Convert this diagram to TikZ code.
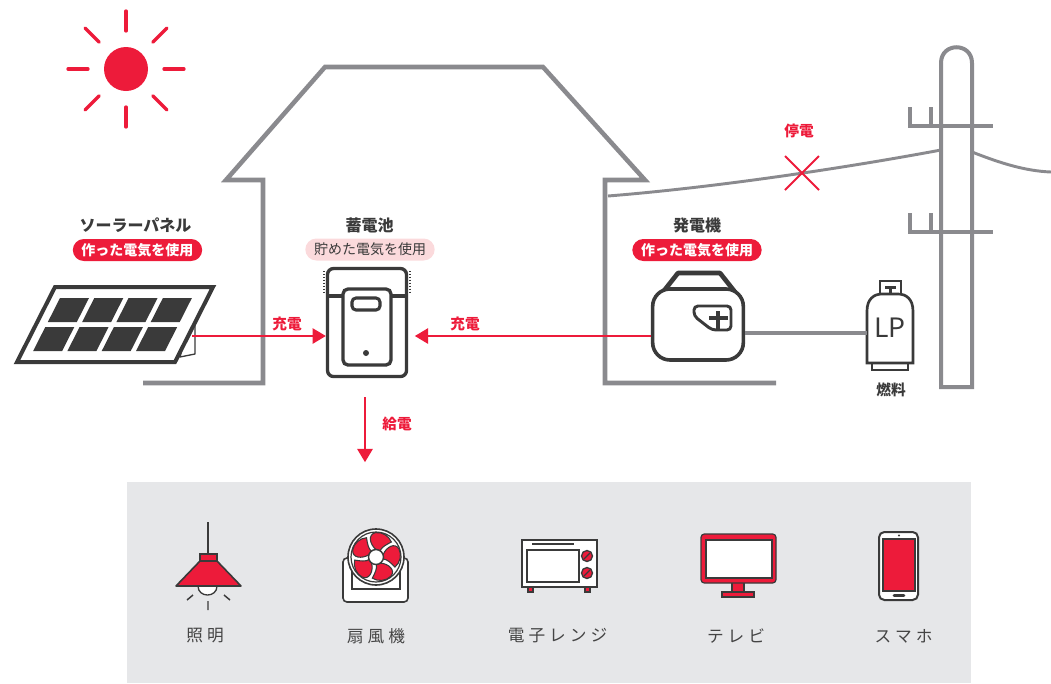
\documentclass[tikz,border=0pt]{standalone}
\usepackage{fontspec}
\setmainfont{Noto Sans CJK JP}
\usetikzlibrary{arrows.meta}
\definecolor{accent}{HTML}{ED1B3A}
\definecolor{ink}{HTML}{3A3A3A}
\definecolor{wall}{HTML}{8A8A8E}
\definecolor{shelf}{HTML}{E6E7E9}
\definecolor{blush}{HTML}{FBDADC}
\definecolor{labelgray}{HTML}{444444}
\newcommand{\gp}{\hspace{3pt}}

\begin{document}
\begin{tikzpicture}[x=0.75pt,y=-0.75pt,
  structure/.style={draw=wall, line width=3.4pt, line join=miter},
  wire/.style={draw=wall, line width=2.2pt},
  flow/.style={draw=accent, line width=1.6pt, -{Triangle[length=10pt,width=11.5pt]}},
  title/.style={font=\bfseries\fontsize{12pt}{14pt}\selectfont, text=ink, inner sep=0pt},
  pill/.style={fill=accent, text=white, font=\bfseries\fontsize{10.5pt}{12pt}\selectfont,
    rounded corners=8.25pt, minimum height=16.5pt, minimum width=97pt, inner sep=0pt},
  redtag/.style={font=\bfseries\fontsize{11pt}{13pt}\selectfont, text=accent, inner sep=0pt},
  item/.style={font=\fontsize{12.5pt}{14pt}\selectfont, text=labelgray, inner sep=0pt},
]
\useasboundingbox (0,0) rectangle (1051,683);

% ---- sun ----
\fill[accent] (126,69) circle (22);
\foreach \a in {0,45,...,315}
  \draw[accent, line width=2.5pt, line cap=round, shift={(126,69)}] (\a:38) -- (\a:58);

% ---- house outline ----
\draw[structure] (143,383) -- (263,383) -- (263,180) -- (226,180) -- (325,67) -- (543,67)
  -- (645,180) -- (605,180) -- (605,383) -- (776,383);

% ---- power line and pole ----
\draw[wire] (608,196) .. controls (720,187) and (850,167) .. (941,150);
\draw[wire] (972,152) .. controls (1000,163) and (1025,171) .. (1051,172);
\draw[structure, line width=3pt] (941,387) -- (941,63) .. controls (941,42) and (972,42) .. (972,63)
  -- (972,387) -- cycle;
\draw[structure, line width=3pt] (910,107) -- (910,126) -- (993,126) (931,107) -- (931,126);
\draw[structure, line width=3pt] (910,213) -- (910,232) -- (993,232) (931,213) -- (931,232);

% outage mark
\draw[accent, line width=1.5pt] (785,156) -- (819,190) (785,190) -- (819,156);
\node[redtag] (outage) at (799,131) {停電};

% ---- solar panel ----
\draw[ink, fill=white, line width=1pt, line join=round] (186,333) -- (195,325) -- (195,354) -- (180,357) -- cycle;
\draw[ink, fill=white, line width=3pt, line join=miter] (55,287) -- (213,287) -- (175,362) -- (17,362) -- cycle;
\foreach \i in {0,1,2,3}{
  \foreach \t/\b in {298/322,327/351}{
    \fill[ink] ({60+34.3*\i-0.507*(\t-298)},\t) -- ({89+34.3*\i-0.507*(\t-298)},\t)
      -- ({89+34.3*\i-0.507*(\b-298)},\b) -- ({60+34.3*\i-0.507*(\b-298)},\b) -- cycle;
  }
}
\coordinate (solout) at (192,336);
\node[title] (soltitle) at (135.5,225) {ソーラーパネル};
\node[pill] (solpill) at (137.5,250) {作った電気を使用};

% ---- storage battery ----
\node[draw=ink, fill=white, line width=2.5pt, rounded corners=4.5pt, minimum width=59.25pt,
  minimum height=81pt, inner sep=0pt] (batt) at (367,322.5) {};
\draw[ink, line width=1.4pt, dash pattern=on 1.1pt off 1.1pt] (324,271) -- (324,293) (410,271) -- (410,293);
\draw[ink, line width=2.5pt] (327,296) -- (407,296);
\draw[ink, fill=white, line width=2.5pt, rounded corners=3.75pt] (343,289) rectangle (391,365);
\draw[ink, line width=2.3pt, rounded corners=3pt] (352,298) rectangle (380,310);
\fill[ink] (366,353) circle (3);
\node[title] (batttitle) at (369.5,225) {蓄電池};
\node[pill, fill=blush, text=ink, font=\fontsize{10.5pt}{12pt}\selectfont] (battpill) at (370,249.5) {貯めた電気を使用};

% ---- generator ----
\draw[ink, fill=white, line width=3.5pt, line join=round] (663,292) -- (678,273) -- (720,273) -- (735,292);
\node[draw=ink, fill=white, line width=2.7pt, rounded corners=13pt, minimum width=68pt,
  minimum height=53.25pt, inner sep=0pt] (gen) at (698,324.5) {};
\draw[ink, line width=2.2pt, rounded corners=3pt] (694,306) -- (731,306) -- (731,330) -- (712,330) -- (694,316) -- cycle;
\draw[ink, line width=3pt] (709,318) -- (728,318) (718,311) -- (718,330);
\node[title] (gentitle) at (697,225) {発電機};
\node[pill] (genpill) at (697,250) {作った電気を使用};

% ---- LP gas cylinder ----
\draw[ink, fill=white, line width=2pt] (880,281) rectangle (901,294);
\draw[ink, line width=1.6pt] (885,287.5) -- (896,287.5) (890.5,287.5) -- (890.5,294);
\draw[ink, fill=white, line width=2pt] (872,363) rectangle (908,370);
\draw[ink, fill=white, line width=2pt] (867,363) -- (867,311) .. controls (867,299) and (874,294) .. (882,294)
  -- (898,294) .. controls (906,294) and (913,299) .. (913,311) -- (913,363) -- cycle;
\node[minimum width=34.5pt, minimum height=52pt, inner sep=0pt, outer sep=0pt] (lp) at (890,333) {};
\node[font=\fontsize{20pt}{22pt}\selectfont, text=ink, inner sep=0pt] (lptext) at (890,328) {LP};
\node[title, font=\bfseries\fontsize{11pt}{13pt}\selectfont] (fuel) at (891,390) {燃料};

% ---- connectors ----
\draw[wire, line width=3.2pt] ([yshift=-6.375pt]gen.east) -- (lp.west);
\draw[flow] (solout) -- (solout -| batt.west);
\path ([yshift=-8.625pt]gen.west) coordinate (genout);
\path (genout -| batt.east) coordinate (battE);
\draw[flow] (genout) -- ([xshift=5pt]battE);
\path ([xshift=-1.5pt]batt.south) coordinate (battS);
\draw[flow] ([yshift=-14.25pt]battS) -- ([yshift=-63pt]battS);
\node[redtag] (chg1) at (287,324) {充電};
\node[redtag] (chg2) at (465,324) {充電};
\node[redtag] (supply) at (397,424) {給電};

% ---- appliance shelf ----
\fill[shelf] (127,482) rectangle (971,683);

% lamp
\draw[ink, line width=1.2pt] (208,522) -- (208,554);
\draw[ink, fill=white, line width=1pt] (198,586) .. controls (198,598) and (217,598) .. (217,586);
\draw[ink, fill=accent, line width=1.2pt, line join=round] (200,561) -- (217,561) -- (241,586) -- (176,586) -- cycle;
\draw[ink, fill=accent, line width=1.2pt] (200,554) rectangle (217,561);
\draw[ink, line width=1.1pt] (187,600) -- (193,595) (208,601) -- (208,610) (224,595) -- (230,600);
\node[item] (lamp) at (205,636) {照\gp 明};

% fan
\draw[ink, fill=white, line width=1.2pt, rounded corners=3pt] (343,558) rectangle (408,602);
\draw[ink, line width=1.2pt] (352,560) -- (352,589) -- (400,589) -- (400,560);
\draw[ink, fill=white, line width=1.2pt] (376,557) circle (28);
\draw[ink, line width=0.9pt] (376,557) circle (25);
\foreach \a in {0,72,144,216,288}{
  \begin{scope}[shift={(376,557)}, rotate=\a]
    \draw[ink, fill=accent, line width=0.8pt] (7,-2) .. controls (10,-10) and (19,-15) .. (23,-8)
      .. controls (26,-2) and (24,6) .. (19,10) .. controls (15,6) and (11,2) .. (7,2) -- cycle;
  \end{scope}
}
\draw[ink, fill=white, line width=1.1pt] (376,557) circle (7.5);
\node[item] (fan) at (376,636) {扇\gp 風\gp 機};

% microwave
\draw[ink, fill=accent, line width=0.8pt] (528,586) rectangle (533,592);
\draw[ink, fill=accent, line width=0.8pt] (585,586) rectangle (590,592);
\draw[ink, fill=white, line width=1.2pt] (522,540) rectangle (597,587);
\draw[ink, line width=1pt] (532,544) -- (574,544);
\draw[ink, fill=white, line width=1.2pt] (527,550) rectangle (579,582);
\foreach \y in {556,573}{
  \draw[ink, fill=accent, line width=1pt] (587,\y) circle (5.5);
  \draw[ink, line width=1pt] (584,\y+3) -- (590,\y-3);
}
\node[item] (oven) at (557.5,636) {電\gp 子\gp レ\gp ン\gp ジ};

% television
\draw[ink, fill=accent, line width=0.9pt] (732,582) rectangle (744,593);
\draw[ink, fill=accent, line width=0.9pt] (722,592) rectangle (754,597);
\draw[ink, fill=accent, line width=0.9pt, rounded corners=2.5pt] (701,534) rectangle (776,583);
\draw[ink, fill=white, line width=0.9pt] (706,540) rectangle (772,578);
\node[item] (tv) at (736,636) {テ\gp レ\gp ビ};

% smartphone
\draw[ink, fill=white, line width=1.5pt, rounded corners=4pt] (879,532) rectangle (918,600);
\draw[ink, fill=accent, line width=0.8pt] (883,539) rectangle (915,591);
\fill[ink] (899,535.5) circle (1.2);
\draw[ink, line width=2pt, line cap=round] (894,595.5) -- (904,595.5);
\node[item] (phone) at (903.5,636) {ス\gp マ\gp ホ};

\end{tikzpicture}
\end{document}
